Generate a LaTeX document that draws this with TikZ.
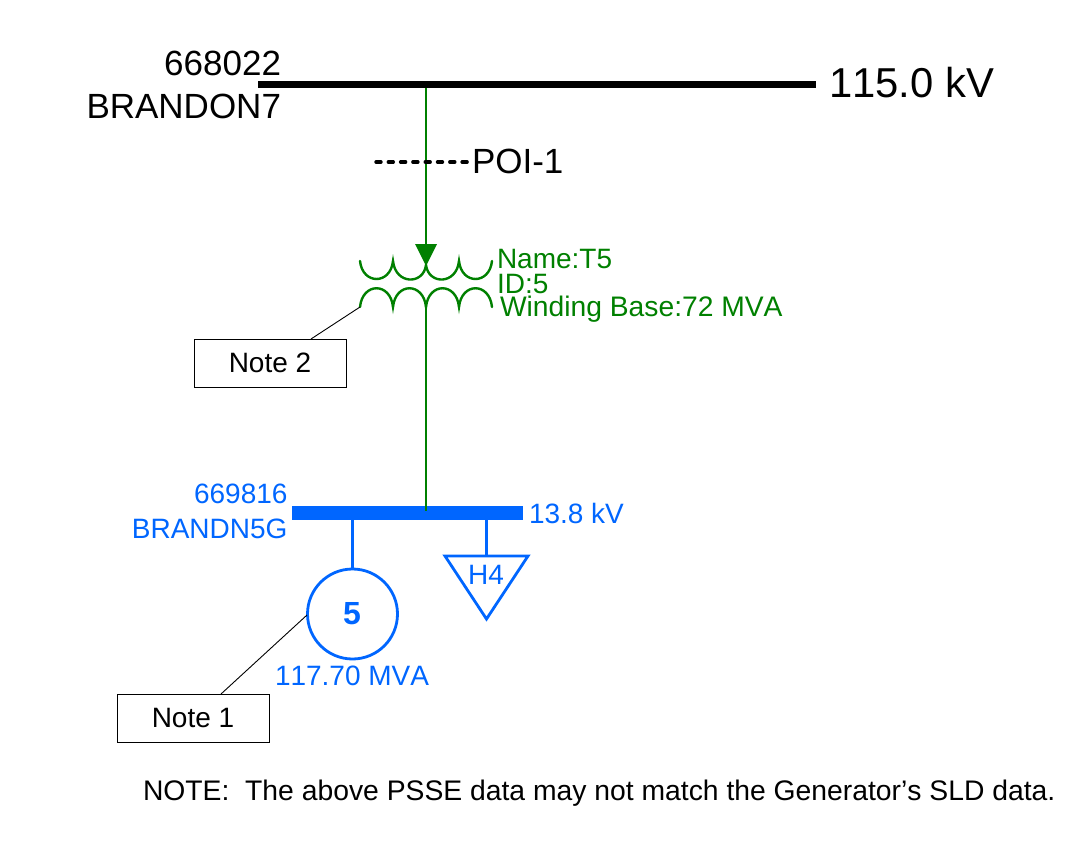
\documentclass[tikz,border=0pt]{standalone}
\usepackage{fontspec}
\setmainfont[Kerning=Off]{Liberation Sans}
\definecolor{grn}{RGB}{0,128,0}
\definecolor{blu}{RGB}{0,102,255}
\newcommand{\fs}[1]{\fontsize{#1pt}{#1pt}\selectfont}
\tikzset{
  x=1pt,y=-1pt,
  lbl/.style={inner sep=0pt,outer sep=0pt,anchor=base west},
  lbr/.style={inner sep=0pt,outer sep=0pt,anchor=base east},
  big/.style={font=\fs{35}},
  small/.style={font=\fs{28}},
  gtext/.style={small,text=grn},
  btext/.style={small,text=blu},
  bar/.style={inner sep=0pt,outer sep=0pt,anchor=north west},
  notebox/.style={draw=black,line width=0.9pt,minimum width=152pt,minimum height=48pt,inner sep=0pt,outer sep=0pt,font=\fs{28}},
  gline/.style={draw=grn,line width=2.8pt},
  bline/.style={draw=blu,line width=2.8pt},
  coil/.style={draw=grn,line width=2.4pt,line cap=round},
  leader/.style={draw=black,line width=0.9pt}
}
\begin{document}
\begin{tikzpicture}
\useasboundingbox (0,0) rectangle (1085,865);
% buses
\node[bar,fill=black,minimum width=558pt,minimum height=7pt] (hvbus) at (258,81) {};
\node[bar,fill=blu,minimum width=231pt,minimum height=14pt] (lvbus) at (292,506) {};
% coordinates
\coordinate (hvtap) at (426,88);
\coordinate (tiptop) at (426,244);
\coordinate (tipL) at (415,244);
\coordinate (tipR) at (437,244);
\coordinate (tipB) at (426,266);
\coordinate (lowtap) at (426,307);
\coordinate (lvtap) at (426,511);
\coordinate (genT) at (352.5,520);
\coordinate (loadT) at (486.5,520);
\coordinate (dashL) at (376,162);
\coordinate (dashR) at (472,162);
% hv connection + arrow
\draw[gline] (hvtap) -- (tiptop);
\fill[grn] (tipL) -- (tipR) -- (tipB) -- cycle;
% upper winding
\draw[coil] (360,261) .. controls (362.5,285) and (390.5,285) .. (393,261)
            .. controls (395.5,285) and (423.5,285) .. (426,265)
            .. controls (428.5,285) and (456.5,285) .. (459,261)
            .. controls (461.5,285) and (489.5,285) .. (492,261);
% lower winding
\draw[coil] (360,307) .. controls (362.5,282) and (390.5,282) .. (393,307)
            .. controls (395.5,282) and (423.5,282) .. (426,307)
            .. controls (428.5,282) and (456.5,282) .. (459,307)
            .. controls (461.5,282) and (489.5,282) .. (492,307);
\draw[gline] (lowtap) -- (lvtap);
% POI dashes
\draw[draw=black,line width=3.4pt,line cap=round,dash pattern=on 5pt off 7.3pt] (dashL) -- (dashR);
% generator and load
\node[circle,draw=blu,line width=2.8pt,minimum size=90pt,inner sep=0pt,outer sep=0pt] (gen) at (352.5,614) {};
\draw[bline] (genT) -- (gen.north);
\coordinate (tA) at (445,556);
\coordinate (tB) at (528,556);
\coordinate (tC) at (486.5,619);
\draw[bline,line join=miter] (tA) -- (tB) -- (tC) -- cycle;
\coordinate (tTop) at (486.5,556);
\draw[bline] (loadT) -- (tTop);
% notes
\node[notebox] (note2) at (270,363) {Note 2};
\node[notebox] (note1) at (193,718) {Note 1};
\coordinate (n2a) at (360,307);
\coordinate (n2b) at (311,339);
\coordinate (n1a) at (307,615);
\coordinate (n1b) at (221,694);
\draw[leader] (n2a) -- (n2b);
\draw[leader] (n1a) -- (n1b);
% labels
\node[lbr,big] (num1) at (281,75) {668022};
\node[lbr,big] (name1) at (281,118) {BRANDON7};
\node[lbl,font=\fs{41.8}] (kv1) at (829,97) {115.0 kV};
\node[lbl,big] (poi) at (472,173) {POI-1};
\node[lbl,gtext] (tname) at (497,268) {Name:T5};
\node[lbl,gtext] (tid) at (497,293) {ID:5};
\node[lbl,text=grn,font=\fs{28.25}] (tbase) at (500,316) {Winding Base:72 MVA};
\node[lbr,btext] (num2) at (287.5,503) {669816};
\node[lbr,btext] (name2) at (287.5,538) {BRANDN5G};
\node[lbl,btext] (kv2) at (529,523) {13.8 kV};
\node[anchor=base,inner sep=0pt,text=blu,font=\fs{32}\bfseries] (genid) at (352,624) {5};
\node[lbl,btext] (mva) at (275,685) {117.70 MVA};
\node[anchor=base,inner sep=0pt,text=blu,font=\fs{28}] (h4) at (486,584) {H4};
\node[lbl,font=\fs{28.3}] (foot) at (143,800) {NOTE:\ \ The above PSSE data may not match the Generator’s SLD data.};
\end{tikzpicture}
\end{document}
